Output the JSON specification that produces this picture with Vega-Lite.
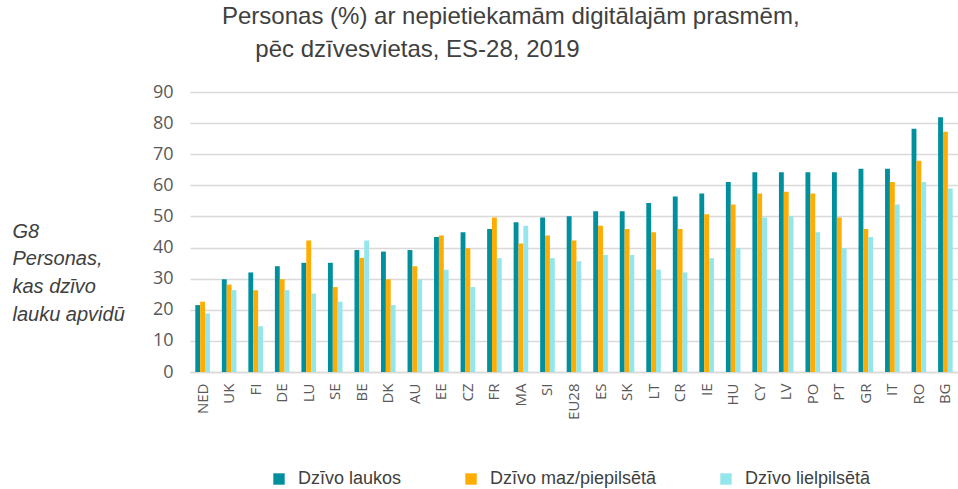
{
  "$schema": "https://vega.github.io/schema/vega-lite/v6.json",
  "autosize": "none",
  "width": 768,
  "height": 280,
  "padding": {"left": 190, "top": 92, "right": 0, "bottom": 117},
  "background": "white",
  "title": {
    "text": ["Personas (%) ar nepietiekamām digitālajām prasmēm,", "\u200b\u00a0\u00a0\u00a0\u00a0\u00a0pēc dzīvesvietas, ES-28, 2019"],
    "anchor": "start",
    "frame": "group",
    "dx": 32,
    "offset": 21,
    "font": "Liberation Sans",
    "fontSize": 24,
    "fontWeight": "normal",
    "color": "#404040",
    "lineHeight": 33
  },
  "data": {"values": [
    {"c": "NED", "s": "Dzīvo laukos", "v": 21.5}, {"c": "NED", "s": "Dzīvo maz/piepilsētā", "v": 22.6}, {"c": "NED", "s": "Dzīvo lielpilsētā", "v": 18.8},
    {"c": "UK", "s": "Dzīvo laukos", "v": 29.8}, {"c": "UK", "s": "Dzīvo maz/piepilsētā", "v": 28.1}, {"c": "UK", "s": "Dzīvo lielpilsētā", "v": 26.3},
    {"c": "FI", "s": "Dzīvo laukos", "v": 32.0}, {"c": "FI", "s": "Dzīvo maz/piepilsētā", "v": 26.3}, {"c": "FI", "s": "Dzīvo lielpilsētā", "v": 14.7},
    {"c": "DE", "s": "Dzīvo laukos", "v": 34.0}, {"c": "DE", "s": "Dzīvo maz/piepilsētā", "v": 29.8}, {"c": "DE", "s": "Dzīvo lielpilsētā", "v": 26.3},
    {"c": "LU", "s": "Dzīvo laukos", "v": 35.1}, {"c": "LU", "s": "Dzīvo maz/piepilsētā", "v": 42.3}, {"c": "LU", "s": "Dzīvo lielpilsētā", "v": 25.2},
    {"c": "SE", "s": "Dzīvo laukos", "v": 35.1}, {"c": "SE", "s": "Dzīvo maz/piepilsētā", "v": 27.3}, {"c": "SE", "s": "Dzīvo lielpilsētā", "v": 22.6},
    {"c": "BE", "s": "Dzīvo laukos", "v": 39.2}, {"c": "BE", "s": "Dzīvo maz/piepilsētā", "v": 36.7}, {"c": "BE", "s": "Dzīvo lielpilsētā", "v": 42.3},
    {"c": "DK", "s": "Dzīvo laukos", "v": 38.7}, {"c": "DK", "s": "Dzīvo maz/piepilsētā", "v": 29.8}, {"c": "DK", "s": "Dzīvo lielpilsētā", "v": 21.5},
    {"c": "AU", "s": "Dzīvo laukos", "v": 39.2}, {"c": "AU", "s": "Dzīvo maz/piepilsētā", "v": 34.0}, {"c": "AU", "s": "Dzīvo lielpilsētā", "v": 29.8},
    {"c": "EE", "s": "Dzīvo laukos", "v": 43.4}, {"c": "EE", "s": "Dzīvo maz/piepilsētā", "v": 43.9}, {"c": "EE", "s": "Dzīvo lielpilsētā", "v": 32.9},
    {"c": "CZ", "s": "Dzīvo laukos", "v": 44.9}, {"c": "CZ", "s": "Dzīvo maz/piepilsētā", "v": 39.8}, {"c": "CZ", "s": "Dzīvo lielpilsētā", "v": 27.3},
    {"c": "FR", "s": "Dzīvo laukos", "v": 46.0}, {"c": "FR", "s": "Dzīvo maz/piepilsētā", "v": 49.7}, {"c": "FR", "s": "Dzīvo lielpilsētā", "v": 36.6},
    {"c": "MA", "s": "Dzīvo laukos", "v": 48.1}, {"c": "MA", "s": "Dzīvo maz/piepilsētā", "v": 41.3}, {"c": "MA", "s": "Dzīvo lielpilsētā", "v": 47.0},
    {"c": "SI", "s": "Dzīvo laukos", "v": 49.7}, {"c": "SI", "s": "Dzīvo maz/piepilsētā", "v": 43.9}, {"c": "SI", "s": "Dzīvo lielpilsētā", "v": 36.6},
    {"c": "EU28", "s": "Dzīvo laukos", "v": 50.1}, {"c": "EU28", "s": "Dzīvo maz/piepilsētā", "v": 42.3}, {"c": "EU28", "s": "Dzīvo lielpilsētā", "v": 35.6},
    {"c": "ES", "s": "Dzīvo laukos", "v": 51.7}, {"c": "ES", "s": "Dzīvo maz/piepilsētā", "v": 47.0}, {"c": "ES", "s": "Dzīvo lielpilsētā", "v": 37.6},
    {"c": "SK", "s": "Dzīvo laukos", "v": 51.7}, {"c": "SK", "s": "Dzīvo maz/piepilsētā", "v": 46.0}, {"c": "SK", "s": "Dzīvo lielpilsētā", "v": 37.6},
    {"c": "LT", "s": "Dzīvo laukos", "v": 54.3}, {"c": "LT", "s": "Dzīvo maz/piepilsētā", "v": 44.9}, {"c": "LT", "s": "Dzīvo lielpilsētā", "v": 32.9},
    {"c": "CR", "s": "Dzīvo laukos", "v": 56.4}, {"c": "CR", "s": "Dzīvo maz/piepilsētā", "v": 46.0}, {"c": "CR", "s": "Dzīvo lielpilsētā", "v": 32.0},
    {"c": "IE", "s": "Dzīvo laukos", "v": 57.4}, {"c": "IE", "s": "Dzīvo maz/piepilsētā", "v": 50.7}, {"c": "IE", "s": "Dzīvo lielpilsētā", "v": 36.6},
    {"c": "HU", "s": "Dzīvo laukos", "v": 61.1}, {"c": "HU", "s": "Dzīvo maz/piepilsētā", "v": 53.8}, {"c": "HU", "s": "Dzīvo lielpilsētā", "v": 39.8},
    {"c": "CY", "s": "Dzīvo laukos", "v": 64.2}, {"c": "CY", "s": "Dzīvo maz/piepilsētā", "v": 57.4}, {"c": "CY", "s": "Dzīvo lielpilsētā", "v": 49.7},
    {"c": "LV", "s": "Dzīvo laukos", "v": 64.2}, {"c": "LV", "s": "Dzīvo maz/piepilsētā", "v": 57.9}, {"c": "LV", "s": "Dzīvo lielpilsētā", "v": 50.1},
    {"c": "PO", "s": "Dzīvo laukos", "v": 64.2}, {"c": "PO", "s": "Dzīvo maz/piepilsētā", "v": 57.4}, {"c": "PO", "s": "Dzīvo lielpilsētā", "v": 44.9},
    {"c": "PT", "s": "Dzīvo laukos", "v": 64.2}, {"c": "PT", "s": "Dzīvo maz/piepilsētā", "v": 49.7}, {"c": "PT", "s": "Dzīvo lielpilsētā", "v": 39.8},
    {"c": "GR", "s": "Dzīvo laukos", "v": 65.3}, {"c": "GR", "s": "Dzīvo maz/piepilsētā", "v": 46.0}, {"c": "GR", "s": "Dzīvo lielpilsētā", "v": 43.4},
    {"c": "IT", "s": "Dzīvo laukos", "v": 65.3}, {"c": "IT", "s": "Dzīvo maz/piepilsētā", "v": 61.1}, {"c": "IT", "s": "Dzīvo lielpilsētā", "v": 53.8},
    {"c": "RO", "s": "Dzīvo laukos", "v": 78.2}, {"c": "RO", "s": "Dzīvo maz/piepilsētā", "v": 67.9}, {"c": "RO", "s": "Dzīvo lielpilsētā", "v": 61.1},
    {"c": "BG", "s": "Dzīvo laukos", "v": 81.9}, {"c": "BG", "s": "Dzīvo maz/piepilsētā", "v": 77.2}, {"c": "BG", "s": "Dzīvo lielpilsētā", "v": 59.0}
  ]},
  "mark": {"type": "bar"},
  "encoding": {
    "x": {
      "field": "c", "type": "nominal", "sort": null,
      "scale": {"paddingInner": 0.45, "paddingOuter": 0.2},
      "axis": {
        "title": null, "labelAngle": -90, "labelFont": "Open Sans", "labelFontSize": 15,
        "labelColor": "#595959", "ticks": false, "labelPadding": 11,
        "domainColor": "#d9d9d9", "domainWidth": 1.5
      }
    },
    "y": {
      "field": "v", "type": "quantitative",
      "scale": {"domain": [0, 90]},
      "axis": {
        "values": [0, 10, 20, 30, 40, 50, 60, 70, 80, 90],
        "title": ["G8", "Personas,", "kas dzīvo", "lauku apvidū"],
        "titleAngle": 0, "titleAlign": "left", "titleBaseline": "alphabetic",
        "titleX": -178, "titleY": 145,
        "titleFont": "Liberation Sans", "titleFontSize": 20, "titleFontStyle": "italic",
        "titleFontWeight": "normal", "titleColor": "#404040", "titleLineHeight": 27.7,
        "labelFont": "Open Sans", "labelFontSize": 18, "labelColor": "#595959",
        "labelPadding": 17, "ticks": false, "domain": false,
        "gridColor": "#d9d9d9", "gridWidth": 1.5
      }
    },
    "xOffset": {"field": "s", "type": "nominal", "sort": ["Dzīvo laukos", "Dzīvo maz/piepilsētā", "Dzīvo lielpilsētā"]},
    "color": {
      "field": "s", "type": "nominal",
      "sort": ["Dzīvo laukos", "Dzīvo maz/piepilsētā", "Dzīvo lielpilsētā"],
      "scale": {"range": ["#008F9C", "#FFAD00", "#93E6EB"]},
      "legend": {
        "title": null, "orient": "none", "direction": "horizontal",
        "legendX": 80, "legendY": 378,
        "symbolType": "square", "symbolSize": 130, "symbolStrokeWidth": 0,
        "labelFont": "Liberation Sans", "labelFontSize": 18, "labelColor": "#404040",
        "labelOffset": 10, "labelLimit": 400, "columnPadding": 60
      }
    }
  },
  "config": {"view": {"stroke": null}}
}
